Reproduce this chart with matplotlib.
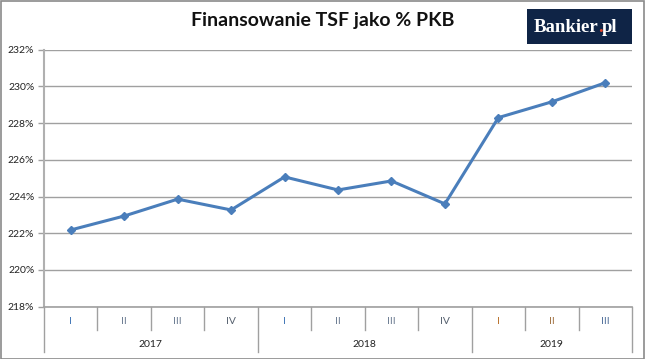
import matplotlib.pyplot as plt
from matplotlib.patches import Rectangle
import matplotlib.transforms as mtransforms

quarters = ['I', 'II', 'III', 'IV', 'I', 'II', 'III', 'IV', 'I', 'II', 'III']
years = ['2017', '2018', '2019']
year_len = [4, 4, 3]
values = [222.18, 222.94, 223.86, 223.27, 225.07, 224.36, 224.85, 223.6, 228.3, 229.16, 230.2]
yticks = [218, 220, 222, 224, 226, 228, 230, 232]
q_colors = ['#3f74b5', '#6a7a90', '#6a7a90', '#55606e', '#3f74b5', '#6a7a90', '#6a7a90', '#55606e',
            '#b8702a', '#a07040', '#4f6f9a']

plt.rcParams['font.family'] = ['Lato', 'DejaVu Sans']

fig = plt.figure(figsize=(6.45, 3.59), dpi=100)
ax = fig.add_axes([44 / 645, 1 - 306.7 / 359, (632 - 44) / 645, 257 / 359])

x = list(range(len(values)))
ax.plot(x, values, color='#4a7ebb', lw=2.2, marker='D', ms=4, zorder=3)

ax.set_xlim(-0.5, len(values) - 0.5)
ax.set_ylim(218, 232)
ax.set_yticks(yticks)
ax.set_yticklabels(['%d%%' % v for v in yticks], fontsize=7.5, color='#222222')
ax.tick_params(axis='y', length=4, color='#a0a0a0', width=1, pad=3)
ax.set_xticks([])
ax.grid(axis='y', color='#a0a0a0', lw=1)
ax.set_axisbelow(True)
for s in ['top', 'right']:
    ax.spines[s].set_visible(False)
ax.spines['left'].set_color('#b0b0b0')
ax.spines['left'].set_linewidth(1.5)
ax.spines['bottom'].set_color('#a0a0a0')
ax.spines['bottom'].set_linewidth(1.2)

# two-level category axis
trans = mtransforms.blended_transform_factory(ax.transData, ax.transAxes)
bounds = [-0.5]
for n in year_len:
    bounds.append(bounds[-1] + n)
for i in range(len(values) + 1):
    xb = i - 0.5
    y0 = -0.176 if xb in bounds else -0.09
    ax.plot([xb, xb], [0, y0], transform=trans, color='#a0a0a0', lw=1, clip_on=False)
for i, q in enumerate(quarters):
    ax.text(i, -0.056, q, transform=trans, ha='center', va='center', fontsize=7.5, color=q_colors[i])
for j, yr in enumerate(years):
    ax.text((bounds[j] + bounds[j + 1]) / 2, -0.149, yr, transform=trans, ha='center', va='center',
            fontsize=7.5, color='#222222')

fig.text(0.5, 0.944, 'Finansowanie TSF jako % PKB', ha='center', va='center', fontsize=14,
         fontweight='bold', color='#111111')

# logo: "Bankier" + red "." + "pl", pieces placed from measured widths
fig.patches.append(Rectangle((527 / 645, 1 - 44 / 359), 105 / 645, 35 / 359, transform=fig.transFigure,
                             facecolor='#0f2446', edgecolor='none'))
props = dict(family='Liberation Serif', fontsize=13.5, fontweight='bold', va='baseline')
x0 = 534 / 645
yb = 1 - 32 / 359
r = fig.canvas.get_renderer()
def width(s):
    t = fig.text(0, 0, s, **props)
    w = t.get_window_extent(r).width / 645
    t.remove()
    return w
w_all, w_b, w_pl = width('Bankier.pl'), width('Bankier'), width('pl')
gap = w_all - w_b - w_pl
fig.text(x0, yb, 'Bankier', color='white', ha='left', **props)
fig.text(x0 + w_b + gap / 2, yb, '.', color='#e0452a', ha='center', **props)
fig.text(x0 + w_all, yb, 'pl', color='white', ha='right', **props)

fig.patches.append(Rectangle((0.5 / 645, 0.5 / 359), 643.5 / 645, 357.5 / 359, transform=fig.transFigure,
                             facecolor='none', edgecolor='#8a8a8a', lw=1.2))

fig.savefig('out.png', dpi=100)
